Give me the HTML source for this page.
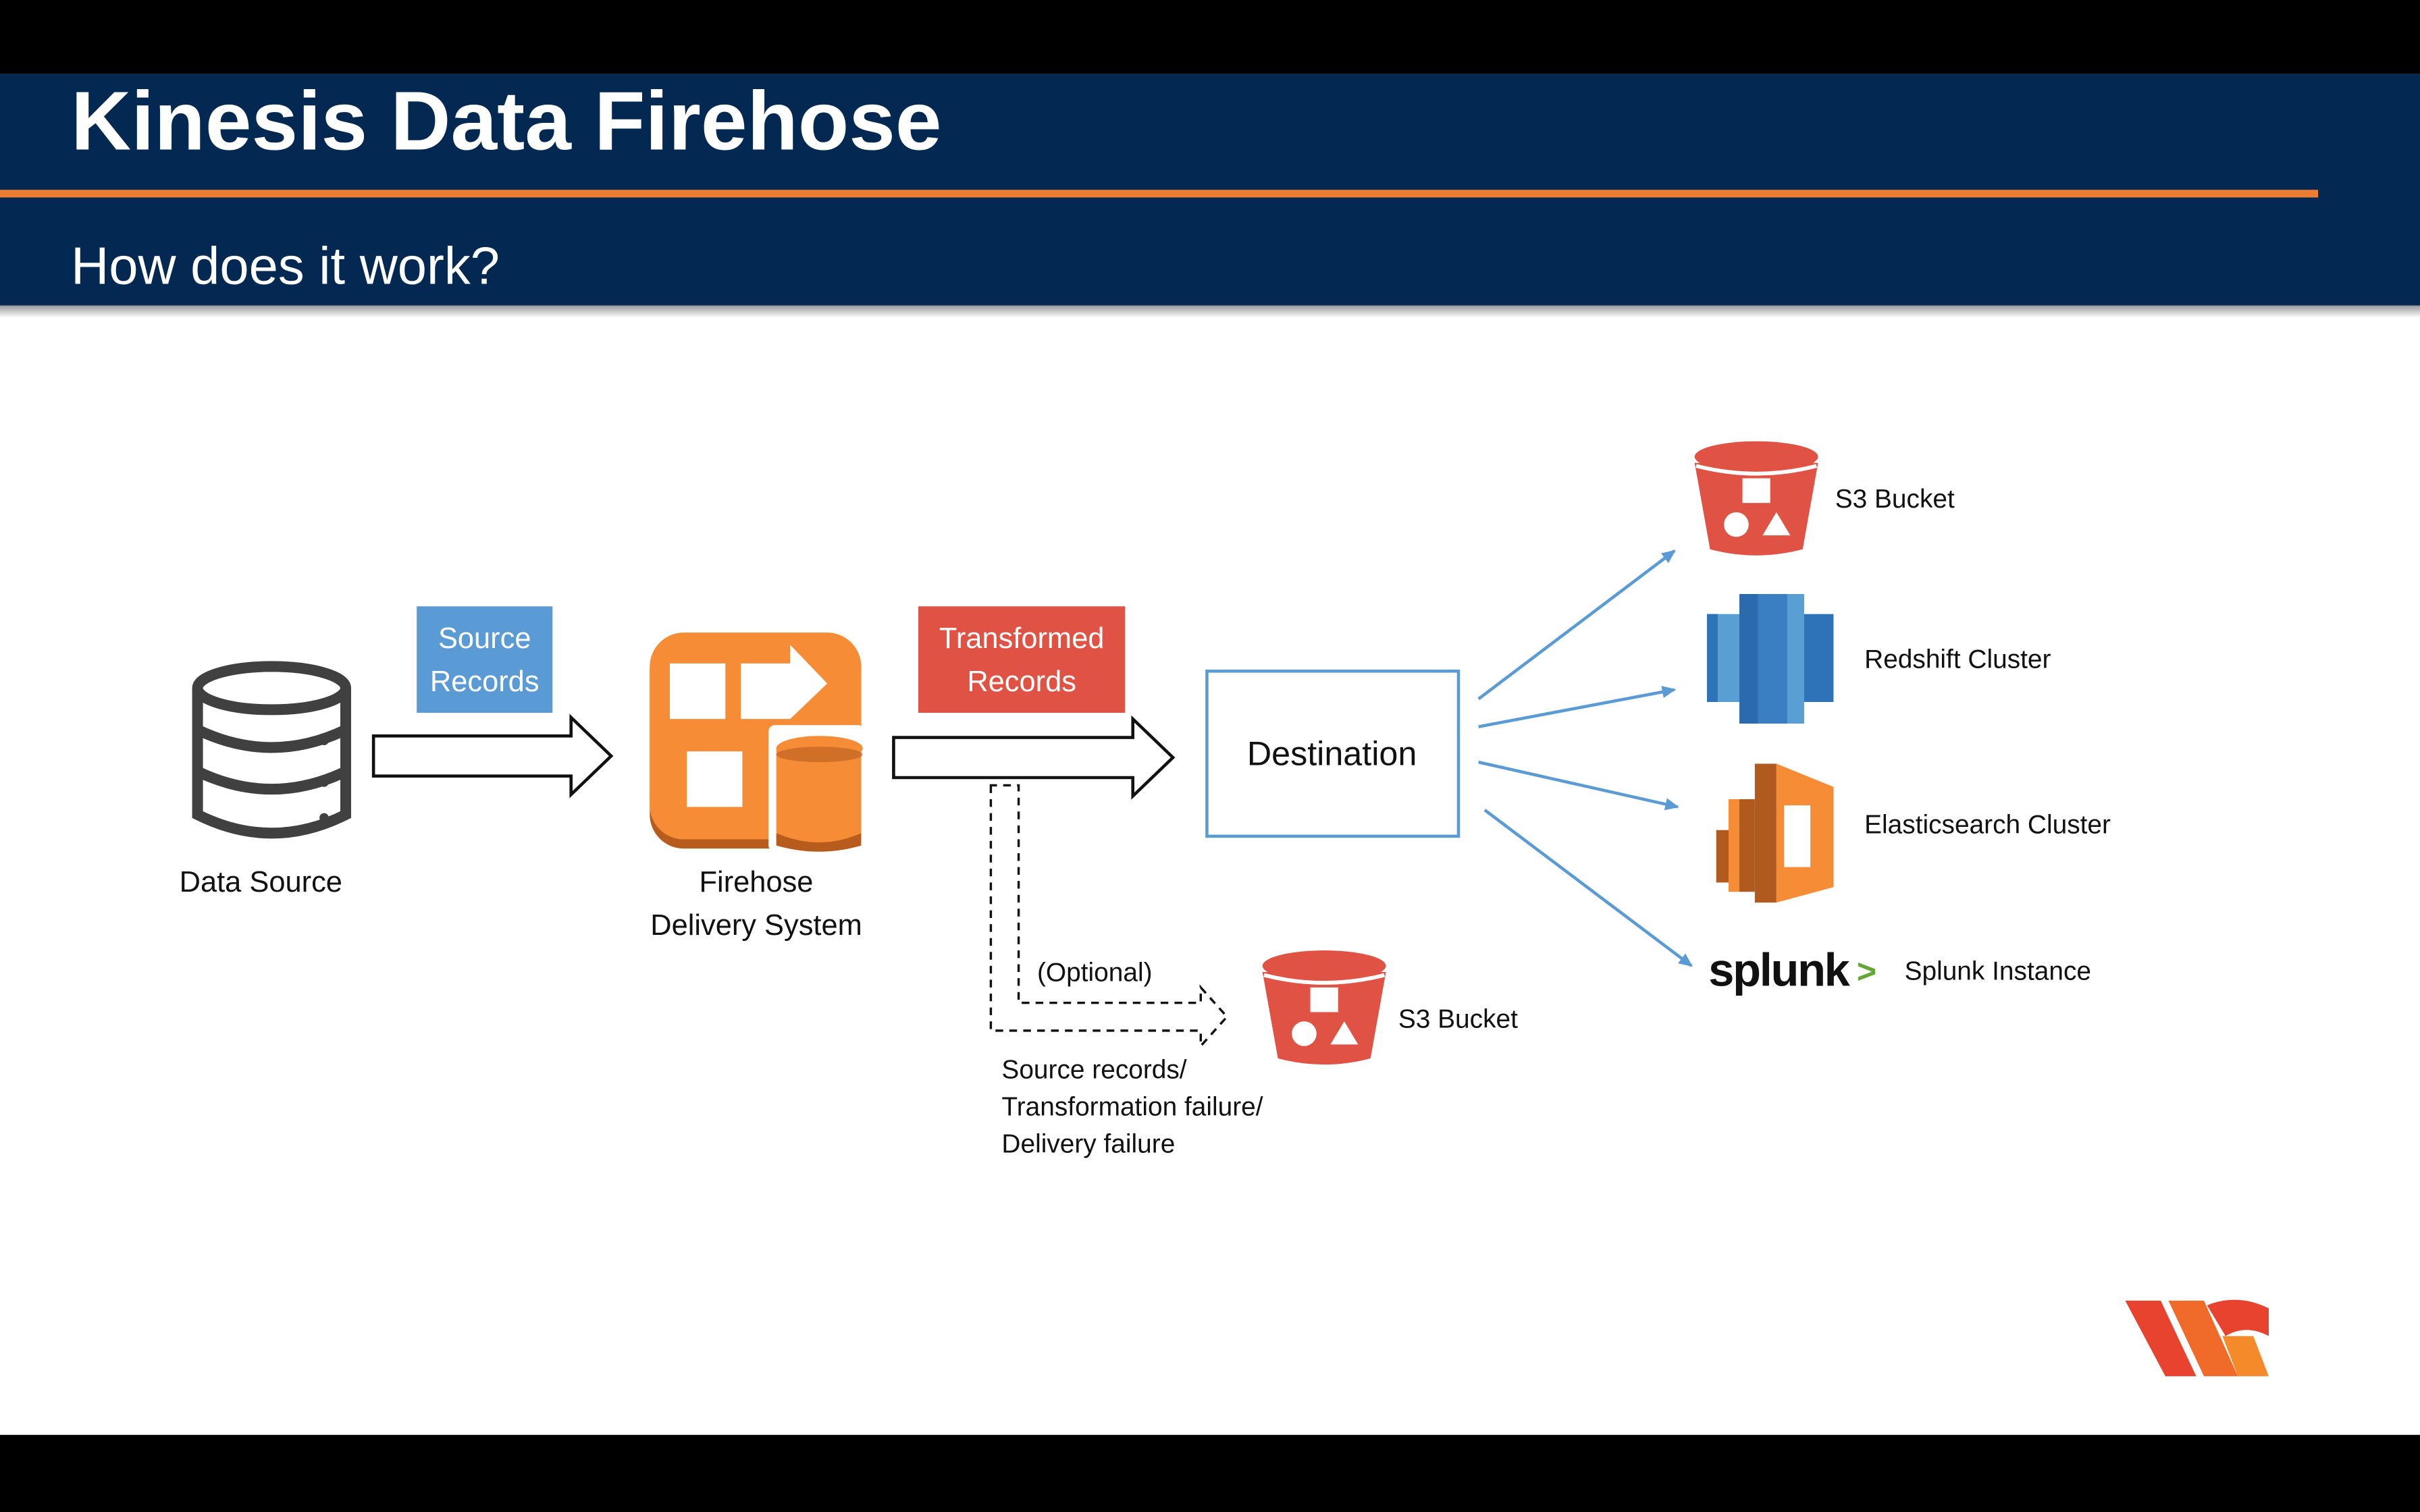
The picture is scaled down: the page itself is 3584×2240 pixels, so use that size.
<!DOCTYPE html>
<html><head><style>html,body{margin:0;padding:0;background:#000;}svg{display:block}</style></head><body>
<svg width="3584" height="2240" viewBox="0 0 1568 980" xmlns="http://www.w3.org/2000/svg" font-family="'Liberation Sans','DejaVu Sans',sans-serif">
<defs>
<marker id="ah" markerWidth="10" markerHeight="10" refX="8" refY="4" orient="auto" markerUnits="userSpaceOnUse"><path d="M0,0 L9,4 L0,8 Z" fill="#5b9bd5"/></marker>
<linearGradient id="sh" x1="0" y1="0" x2="0" y2="1"><stop offset="0" stop-color="#999"/><stop offset="1" stop-color="#fff"/></linearGradient>
<g id="s3">
<path d="M-40,-18 L40,-18 L30,38 Q0,46 -30,38 Z" fill="#e05243"/>
<ellipse cx="0" cy="-22" rx="40" ry="10" fill="#e05243"/>
<path d="M-39,-16 Q0,-6 39,-16" stroke="#fff" stroke-width="2.5" fill="none"/>
<rect x="-9" y="-8" width="18" height="16" fill="#fff"/>
<circle cx="-13" cy="22" r="8" fill="#fff"/>
<path d="M13,14 L22,29 L4,29 Z" fill="#fff"/>
</g>
</defs>
<rect width="1568" height="980" fill="#000"/>
<rect x="0" y="48" width="1568" height="882" fill="#fff"/>
<rect x="0" y="198" width="1568" height="8" fill="url(#sh)"/>
<rect x="0" y="48" width="1568" height="150" fill="#032851"/>
<rect x="0" y="123" width="1502" height="5" fill="#ed7d31"/>
<text x="46" y="97" font-size="54" font-weight="bold" fill="#fff">Kinesis Data Firehose</text>
<text x="46" y="184" font-size="34" fill="#fff">How does it work?</text>

<!-- Data source DB -->
<g stroke="#404040" stroke-width="7" fill="#fff">
<path d="M128,446 L128,528 Q176,552 224,528 L224,446"/>
<ellipse cx="176" cy="446" rx="48" ry="14"/>
<path d="M128,473 Q176,496 224,473 M128,500 Q176,523 224,500"/>
</g>
<circle cx="210" cy="480" r="3" fill="#404040"/><circle cx="210" cy="507" r="3" fill="#404040"/><circle cx="210" cy="530" r="3" fill="#404040"/>
<text x="169" y="578" font-size="19" text-anchor="middle" fill="#111">Data Source</text>

<rect x="270" y="393" width="88" height="69" fill="#5b9bd5"/>
<text x="314" y="420" font-size="19" text-anchor="middle" fill="#fff">Source</text>
<text x="314" y="448" font-size="19" text-anchor="middle" fill="#fff">Records</text>
<path d="M242,477 H370 V465 L396,490 L370,515 V503 H242 Z" fill="#fff" stroke="#111" stroke-width="2"/>

<!-- Firehose icon -->
<rect x="421" y="412" width="137" height="138" rx="22" fill="#b85c1e"/>
<rect x="421" y="410" width="137" height="134" rx="22" fill="#f68d36"/>
<rect x="434" y="430" width="36" height="36" fill="#fff"/>
<path d="M480,430 H512 V418 L536,443 L512,466 H480 Z" fill="#fff"/>
<rect x="445" y="487" width="36" height="36" fill="#fff"/>
<rect x="498" y="470" width="62" height="82" rx="4" fill="#fff"/>
<path d="M503,485 L503,545 Q531,554 558,545 L558,485 Z" fill="#f68d36"/>
<path d="M503,540 Q531,552 558,540 L558,548 Q531,556 503,548 Z" fill="#b85c1e"/>
<ellipse cx="531" cy="485" rx="28" ry="8" fill="#f68d36"/>
<ellipse cx="531" cy="489" rx="28" ry="5" fill="#b85c1e" opacity="0.6"/>
<text x="490" y="578" font-size="19" text-anchor="middle" fill="#111">Firehose</text>
<text x="490" y="606" font-size="19" text-anchor="middle" fill="#111">Delivery System</text>

<rect x="595" y="393" width="134" height="69" fill="#e05243"/>
<text x="662" y="420" font-size="19" text-anchor="middle" fill="#fff">Transformed</text>
<text x="662" y="448" font-size="19" text-anchor="middle" fill="#fff">Records</text>
<path d="M579,478 H734 V466 L760,491 L734,516 V504 H579 Z" fill="#fff" stroke="#111" stroke-width="2"/>

<rect x="782" y="435" width="163" height="107" fill="#fff" stroke="#5b9bd5" stroke-width="2"/>
<text x="863" y="496" font-size="22" text-anchor="middle" fill="#111">Destination</text>

<!-- dashed optional path -->
<path d="M642,509 V668 H778 V678 L795,659 L778,640 V650 H660 V509 Z" fill="none" stroke="#111" stroke-width="1.5" stroke-dasharray="5,4"/>
<text x="672" y="636" font-size="17" fill="#111">(Optional)</text>
<text x="649" y="699" font-size="17" fill="#111">Source records/</text>
<text x="649" y="723" font-size="17" fill="#111">Transformation failure/</text>
<text x="649" y="747" font-size="17" fill="#111">Delivery failure</text>
<use href="#s3" x="858" y="648"/>
<text x="906" y="666" font-size="17" fill="#111">S3 Bucket</text>

<!-- blue arrows -->
<g stroke="#5b9bd5" stroke-width="2" marker-end="url(#ah)">
<line x1="958" y1="453" x2="1085" y2="357"/>
<line x1="958" y1="471" x2="1085" y2="447"/>
<line x1="958" y1="494" x2="1087" y2="523"/>
<line x1="962" y1="525" x2="1096" y2="626"/>
</g>

<use href="#s3" x="1138" y="318"/>
<text x="1189" y="329" font-size="17" fill="#111">S3 Bucket</text>

<!-- Redshift -->
<rect x="1106" y="398" width="22" height="57" fill="#5a9fd4"/>
<rect x="1106" y="398" width="7" height="57" fill="#2e73b8"/>
<rect x="1168" y="398" width="20" height="57" fill="#2e73b8"/>
<rect x="1127" y="385" width="42" height="84" fill="#3a7fc2"/>
<rect x="1127" y="385" width="12" height="84" fill="#2a6aad"/>
<rect x="1158" y="385" width="11" height="84" fill="#5a9fd4"/>
<text x="1208" y="433" font-size="17" fill="#111">Redshift Cluster</text>

<!-- Elasticsearch -->
<rect x="1112" y="538" width="14" height="34" fill="#b05a1f"/>
<rect x="1120" y="518" width="14" height="60" fill="#f68d36"/>
<rect x="1127" y="518" width="10" height="60" fill="#b05a1f"/>
<rect x="1137" y="495" width="14" height="90" fill="#b05a1f"/>
<path d="M1151,495 L1188,510 L1188,575 L1151,585 Z" fill="#f68d36"/>
<rect x="1156" y="522" width="17" height="40" fill="#fff"/>
<text x="1208" y="540" font-size="17" fill="#111">Elasticsearch Cluster</text>

<!-- Splunk -->
<text x="1107" y="639" font-size="30" font-weight="bold" fill="#111" letter-spacing="-1">splunk</text>
<text x="1203" y="637" font-size="22" font-weight="bold" fill="#65a637">&gt;</text>
<text x="1234" y="635" font-size="17" fill="#111">Splunk Instance</text>

<!-- logo -->
<path d="M1377,843 L1400,843 L1423,892 L1403,892 Z" fill="#e8432f"/>
<path d="M1405,843 L1428,843 L1450,892 L1428,892 Z" fill="#f06a2a"/>
<path d="M1430,846 Q1450,838 1470,848 L1470,866 Q1455,858 1442,866 Z" fill="#e8432f"/>
<path d="M1440,866 L1460,866 L1470,892 L1450,892 Z" fill="#f58a2a"/>
</svg>
</body></html>
